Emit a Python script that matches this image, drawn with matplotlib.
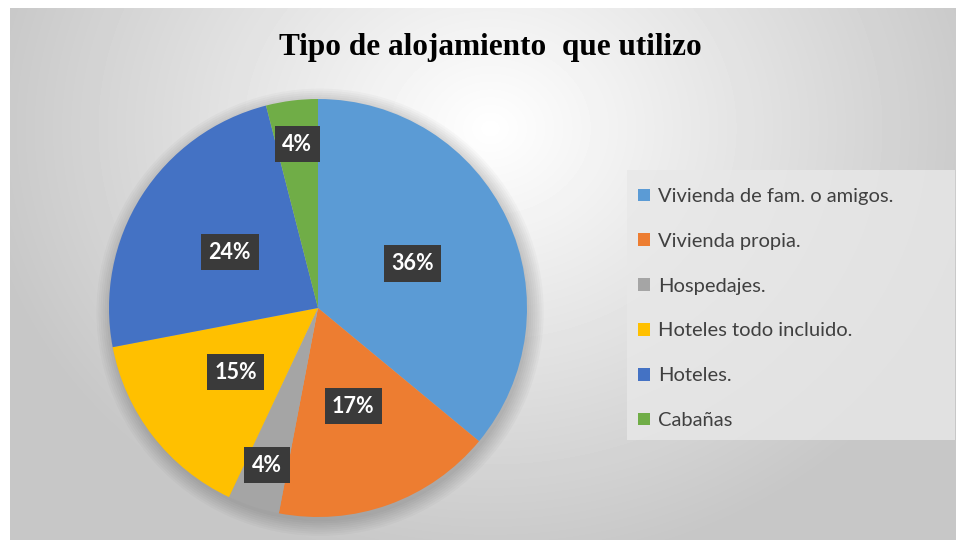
import matplotlib.pyplot as plt
import numpy as np
from matplotlib.patches import Rectangle, Circle

categories = [
    "Vivienda de fam. o amigos.",
    "Vivienda propia.",
    "Hospedajes.",
    "Hoteles todo incluido.",
    "Hoteles.",
    "Cabañas",
]
values = [36, 17, 4, 15, 24, 4]
colors = ["#5B9BD5", "#ED7D31", "#A5A5A5", "#FFC000", "#4472C4", "#70AD47"]
title = "Tipo de alojamiento  que utilizo"

W, H = 958, 542
fig = plt.figure(figsize=(W / 100, H / 100), dpi=100)
fig.patch.set_facecolor("white")

# chart area with radial grey gradient
bg = fig.add_axes([10 / W, 2 / H, 946 / W, 532 / H])
bg.set_axis_off()
yy, xx = np.mgrid[0:532, 0:946]
d = np.sqrt(((xx - 480) / 560) ** 2 + ((yy - 120) / 480) ** 2)
shade = np.clip(1.0 - 0.24 * d, 0.78, 1.0)
bg.imshow(shade, cmap="gray", vmin=0, vmax=1, aspect="auto",
          extent=[0, 1, 0, 1], origin="upper", interpolation="bilinear")
bg.set_xlim(0, 1)
bg.set_ylim(0, 1)

# legend panel
fig.patches.append(Rectangle((627 / W, 102 / H), 328 / W, 270 / H,
                             transform=fig.transFigure, facecolor="#e8e8e8",
                             edgecolor="none", alpha=0.8, zorder=1))

# pie
cx, cy, r = 318, 308, 209
ax = fig.add_axes([(cx - r) / W, (H - cy - r) / H, 2 * r / W, 2 * r / H])
ax.set_axis_off()

# soft shadow behind the pie
for k in range(8):
    ax.add_patch(Circle((0.01, -0.02), 1.0 + 0.01 * k, facecolor="black",
                        alpha=0.022, edgecolor="none", zorder=0, clip_on=False))

wedges, _ = ax.pie(values, colors=colors, startangle=90, counterclock=False,
                   radius=1, wedgeprops=dict(edgecolor="none", clip_on=False))
ax.set_xlim(-1, 1)
ax.set_ylim(-1, 1)

for w, v in zip(wedges, values):
    mid = np.deg2rad((w.theta1 + w.theta2) / 2)
    dist = 0.79 if v < 5 else 0.5
    ax.text(dist * np.cos(mid), dist * np.sin(mid), f"{v}%",
            ha="center", va="center", color="white", fontsize=15.5,
            fontweight="bold", family="Lato", zorder=5,
            bbox=dict(boxstyle="square,pad=0.35", facecolor="#3a3a3a",
                      edgecolor="none"))

fig.text(490 / W, 1 - 48 / H, title, ha="center", va="center",
         fontsize=22.5, fontweight="bold", family="Liberation Serif", color="black")

leg = fig.legend(wedges, categories, loc="upper left",
                 bbox_to_anchor=(620 / W, 1 - 170 / H), frameon=False,
                 handlelength=0.6, handleheight=0.6, handletextpad=0.4,
                 labelspacing=1.38, prop=dict(family="Lato", size=14.5))
for t in leg.get_texts():
    t.set_color("#404040")

fig.savefig("out.png", dpi=100)
